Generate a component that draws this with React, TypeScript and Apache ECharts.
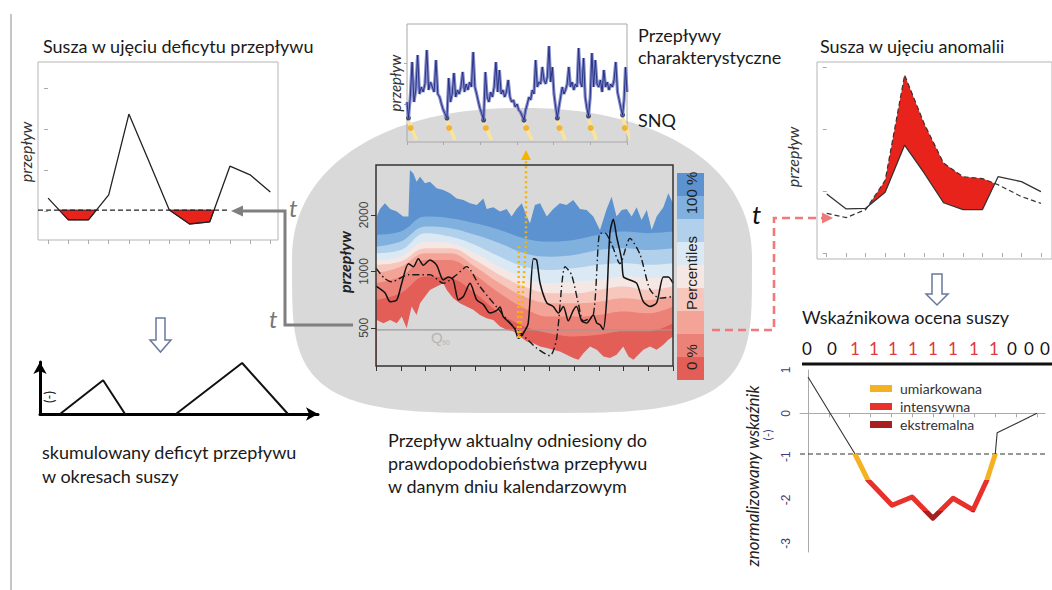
import { useEffect, useRef } from 'react';
import * as echarts from 'echarts';

// ===== Panel 1: Susza w ujęciu deficytu przepływu
const deficitX = [0, 1, 2, 3, 4, 5, 6, 7, 8, 9, 10, 11];
const deficitFlow = [1.32, 0.79, 0.79, 1.4, 3.37, 2.21, 1.03, 0.69, 0.74, 2.1, 1.89, 1.47];
const deficitThreshold = 1.03;
const deficitThresholdEnd = 9.0;
const deficitTicksY = [1, 2, 3, 4];

// ===== Panel 2: skumulowany deficyt
const cumDeficit1 = [[7.2, 0], [22.7, 0.65], [30.6, 0]];
const cumDeficit2 = [[48.9, 0], [72.7, 0.98], [89.2, 0]];

// ===== Panel 3: hydrogram (przepływy charakterystyczne)
const hydroYearTicks = [0, 1, 2, 3, 4, 5, 6];
const hydroTroughX = [0.04, 1.09, 2.09, 3.19, 4.1, 4.95, 5.88];
const hydroTroughY = [24, 24, 22, 22, 24, 26, 27];
const hydroStart = 40;
const hydroYear1 = [45, 80, 40, 52, 87, 48, 55, 50, 58, 92, 52, 60, 55, 50, 82, 48, 45, 38, 32, 28];
const hydroYear2 = [64, 40, 48, 69, 45, 52, 48, 55, 70, 50, 58, 52, 60, 55, 90, 55, 48, 40, 33, 28];
const hydroYear3 = [70, 45, 40, 50, 45, 55, 80, 50, 72, 48, 52, 45, 50, 62, 45, 40, 42, 35, 38, 32, 30, 26];
const hydroYear4 = [32, 38, 45, 42, 52, 48, 82, 55, 60, 58, 75, 62, 58, 65, 96, 60, 75, 48, 35];
const hydroYear5 = [35, 45, 55, 48, 52, 58, 75, 55, 60, 52, 58, 55, 94, 60, 55, 84, 45, 34];
const hydroYear6 = [45, 89, 55, 82, 58, 55, 62, 50, 72, 55, 60, 52, 58, 55, 62, 80, 50, 42, 34];
const hydroTail = [42, 75, 50];
const snqValue = 14;

// ===== Panel 4: percentyle przepływu (log)
const months = [0, 1, 2, 3, 4, 5, 6, 7, 8, 9, 10, 11, 12];
const pct100X = [0.03, 0.16, 0.36, 0.57, 0.84, 1.1, 1.31, 1.37, 1.51, 1.64, 1.78, 1.98, 2.18, 2.45, 2.72, 2.99, 3.26, 3.53, 3.8, 4.07, 4.34, 4.47, 4.74, 5.01, 5.28, 5.48, 5.68, 5.89, 6.09, 6.22, 6.42, 6.63, 6.9, 7.16, 7.43, 7.7, 7.97, 8.24, 8.51, 8.78, 9.05, 9.32, 9.52, 9.72, 9.93, 10.13, 10.33, 10.53, 10.73, 10.94, 11.14, 11.34, 11.61, 11.81, 12.0];
const pct100 = [1960, 2150, 2309, 2150, 2085, 1960, 1960, 3473, 3330, 3010, 3200, 2950, 3010, 2780, 2718, 2610, 2450, 2400, 2309, 2260, 2450, 2150, 2200, 2085, 2150, 1960, 2150, 2309, 1960, 1806, 2260, 2309, 1960, 2150, 2309, 2260, 2400, 2150, 2126, 1960, 1664, 2150, 2504, 1960, 2126, 2150, 1960, 2200, 1880, 2126, 1664, 1960, 2200, 2610, 2309];
const pct89 = [1567, 1630, 1960, 1920, 1806, 1664, 1500, 1443, 1472, 1567, 1630, 1600, 1630];
const pct78 = [1356, 1443, 1735, 1700, 1567, 1413, 1249, 1199, 1224, 1300, 1328, 1300, 1328];
const pct67 = [1249, 1300, 1600, 1533, 1385, 1199, 1060, 1019, 1040, 1084, 1106, 1084, 1106];
const pct56 = [1152, 1199, 1443, 1413, 1249, 1060, 920, 865, 883, 900, 938, 920, 938];
const pct44 = [1084, 1129, 1328, 1328, 1152, 958, 830, 765, 765, 797, 830, 797, 830];
const pct33 = [978, 1060, 1249, 1249, 1060, 865, 734, 677, 677, 690, 720, 705, 734];
const pct22 = [865, 938, 1152, 1152, 958, 765, 637, 574, 574, 586, 611, 598, 650];
const pct11 = [705, 765, 938, 920, 765, 598, 508, 468, 450, 459, 479, 479, 529];
const pct0X = [0.03, 0.3, 0.57, 0.84, 1.04, 1.24, 1.44, 1.64, 1.78, 1.98, 2.18, 2.45, 2.72, 2.86, 3.12, 3.39, 3.66, 3.93, 4.2, 4.47, 4.74, 5.01, 5.28, 5.55, 5.82, 6.09, 6.36, 6.63, 6.9, 7.16, 7.43, 7.7, 7.97, 8.18, 8.38, 8.65, 8.92, 9.19, 9.45, 9.72, 9.99, 10.2, 10.4, 10.6, 10.8, 11.07, 11.34, 11.61, 11.81, 12.0];
const pct0 = [551, 529, 551, 529, 574, 498, 650, 586, 677, 734, 797, 830, 865, 797, 720, 677, 650, 624, 586, 562, 551, 508, 488, 479, 450, 423, 414, 398, 390, 382, 374, 359, 345, 338, 366, 398, 382, 352, 345, 359, 398, 352, 338, 359, 382, 398, 382, 406, 432, 450];
const bandColors = ['#e25e56', '#ec8177', '#f3a497', '#f7c7bd', '#f5e7e3', '#dbe9f5', '#b0d0ec', '#80b0de', '#5b92cf'];
const flow2003 = [[0, 835], [0.36, 770], [0.57, 690], [0.84, 705], [1.04, 865], [1.31, 1100], [1.51, 1060], [1.71, 1170], [1.91, 1080], [2.18, 1150], [2.45, 1080], [2.72, 900], [2.92, 935], [3.12, 900], [3.33, 705], [3.53, 735], [3.8, 865], [4.07, 705], [4.34, 665], [4.6, 600], [4.88, 620], [5.01, 645], [5.14, 574], [5.41, 530], [5.62, 490], [5.75, 440], [5.95, 468], [6.15, 530], [6.36, 1170], [6.49, 1150], [6.63, 865], [6.9, 680], [7.16, 650], [7.37, 600], [7.57, 650], [7.77, 545], [7.97, 620], [8.1, 650], [8.31, 545], [8.51, 530], [8.78, 585], [8.92, 530], [9.05, 520], [9.18, 490], [9.32, 705], [9.45, 1600], [9.59, 1900], [9.72, 1540], [9.93, 1150], [10.0, 935], [10.26, 900], [10.53, 865], [10.8, 690], [11.07, 650], [11.34, 680], [11.61, 935], [11.81, 935], [12, 865]];
const flow1947 = [[0, 1040], [0.36, 915], [0.63, 880], [1.31, 960], [2.18, 960], [2.72, 865], [3.26, 960], [3.66, 1060], [4.2, 830], [4.88, 645], [5.41, 530], [5.95, 455], [6.49, 390], [7.03, 355], [7.3, 440], [7.64, 1060], [7.9, 960], [8.17, 680], [8.38, 545], [8.78, 585], [9.05, 1600], [9.25, 1600], [9.52, 1400], [9.86, 1100], [10.26, 1500], [10.67, 1230], [11.07, 800], [11.47, 720], [12, 735]];
const q90 = 488;
const flowTicksY = [500, 1000, 2000];
const marker2003 = [5.74, 421];
const marker1947 = [7.03, 359];

// ===== Panel 5: Susza w ujęciu anomalii
const anomX = [0, 1, 2, 3, 4, 5, 6, 7, 8, 8.8, 10, 11];
const anomFlow = [0.95, 0.71, 0.72, 0.98, 1.74, 1.29, 0.81, 0.7, 0.7, 1.23, 1.15, 0.99];
const anomNormal = [0.64, 0.57, 0.7, 1.17, 2.87, 2.09, 1.45, 1.23, 1.2, 1.1, 0.91, 0.8];
const anomTicksX = [0, 1, 2, 3, 4, 5, 6, 7, 8, 9, 10, 11];
const anomTicksY = [0, 1, 2, 3];

// ===== Panel 6: Wskaźnikowa ocena suszy
const binaryRow = ['0', '0', '1', '1', '1', '1', '1', '1', '1', '1', '0', '0', '0'];
const binaryX = [807, 832, 855, 874, 893, 913, 933, 953, 974, 994, 1012, 1029, 1045];
const indexX = [0, 2.26, 2.88, 4.04, 5.0, 6.0, 6.97, 7.93, 8.6, 9.0, 9.09, 11.0];
const indexVal = [0.84, -0.94, -1.54, -2.12, -1.93, -2.42, -1.96, -2.23, -1.54, -0.94, -0.45, 0.0];
const indexThreshold = -0.94;
const indexTicksX = [0, 1, 2, 3, 4, 5, 6, 7, 8, 9, 10, 11];
const indexTicksY = [-3, -2, -1, 0, 1];
const severityNames = ['umiarkowana', 'intensywna', 'ekstremalna'];
const severityColors = ['#f4b223', '#e8312a', '#a91e1e'];
const severityLimits = [-0.94, -1.54, -2.25];

const SANS = 'Lato';
const ARIAL = 'Liberation Sans';

function deficitPolygons(xs: number[], ys: number[], thr: number) {
  const polys: number[][][] = [];
  let cur: number[][] | null = null;
  for (let i = 0; i < xs.length; i++) {
    const below = ys[i] < thr;
    if (i > 0) {
      const prevBelow = ys[i - 1] < thr;
      if (below !== prevBelow) {
        const t = (thr - ys[i - 1]) / (ys[i] - ys[i - 1]);
        const cx = xs[i - 1] + t * (xs[i] - xs[i - 1]);
        if (below) cur = [[cx, thr]];
        else if (cur) { cur.push([cx, thr]); polys.push(cur); cur = null; }
      }
    }
    if (below) { if (!cur) cur = [[xs[i], thr]]; cur.push([xs[i], ys[i]]); }
  }
  if (cur) { cur.push([xs[xs.length - 1], thr]); polys.push(cur); }
  return polys;
}

function gapPolygons(xs: number[], upper: number[], lower: number[]) {
  const polys: number[][][] = [];
  let top: number[][] | null = null;
  let bot: number[][] = [];
  for (let i = 0; i < xs.length; i++) {
    const d = upper[i] - lower[i];
    if (i > 0) {
      const dp = upper[i - 1] - lower[i - 1];
      if ((d > 0) !== (dp > 0)) {
        const t = dp / (dp - d);
        const cx = xs[i - 1] + t * (xs[i] - xs[i - 1]);
        const cy = lower[i - 1] + t * (lower[i] - lower[i - 1]);
        if (d > 0) { top = [[cx, cy]]; bot = []; }
        else if (top) { top.push([cx, cy]); polys.push(top.concat(bot.reverse())); top = null; }
      }
    }
    if (d > 0 && top) { top.push([xs[i], upper[i]]); bot.push([xs[i], lower[i]]); }
  }
  return polys;
}

function buildHydro() {
  const segs = [hydroYear1, hydroYear2, hydroYear3, hydroYear4, hydroYear5, hydroYear6];
  const out: number[][] = [[0, hydroStart]];
  hydroTroughX.forEach((tx, i) => {
    out.push([tx, hydroTroughY[i]]);
    const seg = segs[i];
    const next = i + 1 < hydroTroughX.length ? hydroTroughX[i + 1] : 6;
    if (seg) seg.forEach((v, j) => out.push([tx + ((next - tx) * (j + 1)) / (seg.length + 1), v]));
    else hydroTail.forEach((v, j) => out.push([tx + ((next - tx) * (j + 1)) / hydroTail.length, v]));
  });
  return out;
}

function ellipsePoints() {
  const pts: number[][] = [];
  for (let i = 0; i < 200; i++) {
    const th = (i / 200) * Math.PI * 2;
    const c = Math.cos(th);
    const s = Math.sin(th);
    const bottom = s > 0;
    const n = bottom ? 4 : 2.2;
    const b = bottom ? 153 : 152;
    pts.push([
      522 + 230 * Math.sign(c) * Math.pow(Math.abs(c), 2 / n),
      260 + b * Math.sign(s) * Math.pow(Math.abs(s), 2 / n),
    ]);
  }
  return pts;
}

function txt(x: number, y: number, text: string, o: any = {}) {
  return {
    type: 'text', x, y, rotation: o.rotation || 0, z: o.z ?? 20, silent: true,
    style: {
      text, fill: o.color || '#1a1a1a', fontSize: o.size || 18, fontFamily: o.family || SANS,
      fontStyle: o.italic ? 'italic' : 'normal', fontWeight: o.bold ? 'bold' : 'normal',
      align: o.align || 'left', verticalAlign: 'middle',
    },
  };
}

function noAxis(gridIndex: number, extra: any = {}) {
  return {
    gridIndex, type: 'value', axisLine: { show: false }, axisLabel: { show: false },
    axisTick: { show: false }, splitLine: { show: false }, ...extra,
  };
}

function ticks(values: number[], color = '#999', length = 4) {
  return { show: true, customValues: values, length, lineStyle: { color, width: 1 } };
}

function buildOption() {
  const defPolys = deficitPolygons(deficitX, deficitFlow, deficitThreshold);
  const anomPolys = gapPolygons(anomX, anomNormal, anomFlow);
  const hydro = buildHydro();

  const series: any[] = [];
  // panel 1
  series.push({
    type: 'custom', xAxisIndex: 0, yAxisIndex: 0, silent: true, clip: true, z: 1,
    renderItem: (params: any, api: any) => ({
      type: 'polygon',
      shape: { points: defPolys[params.dataIndex].map((p) => api.coord(p)) },
      style: { fill: '#e8231c', stroke: '#4a0c0c', lineWidth: 0.8 },
    }),
    data: defPolys.map((p) => p[0]),
  });
  series.push({
    type: 'line', xAxisIndex: 0, yAxisIndex: 0, symbol: 'none', silent: true,
    data: [[-0.5, deficitThreshold], [deficitThresholdEnd, deficitThreshold]],
    lineStyle: { color: '#222', width: 1.2, type: [5, 3] },
  });
  series.push({
    type: 'line', xAxisIndex: 0, yAxisIndex: 0, symbol: 'none', silent: true,
    data: deficitX.map((x, i) => [x, deficitFlow[i]]),
    lineStyle: { color: '#222', width: 1.3 },
  });
  // panel 2
  [cumDeficit1, cumDeficit2].forEach((d) =>
    series.push({
      type: 'line', xAxisIndex: 1, yAxisIndex: 1, symbol: 'none', silent: true, data: d,
      lineStyle: { color: '#111', width: 2 },
    })
  );
  // panel 3
  series.push({
    type: 'line', xAxisIndex: 2, yAxisIndex: 2, symbol: 'none', silent: true, data: hydro,
    lineStyle: { color: '#7880c4', width: 3.2, opacity: 0.9 },
  });
  series.push({
    type: 'line', xAxisIndex: 2, yAxisIndex: 2, symbol: 'none', silent: true, data: hydro,
    lineStyle: { color: '#1e2a7e', width: 0.9 },
  });
  series.push({
    type: 'lines', coordinateSystem: 'cartesian2d', xAxisIndex: 2, yAxisIndex: 2, silent: true,
    data: hydroTroughX.map((tx, i) => ({ coords: [[tx, hydroTroughY[i] - 3], [tx + 0.22, 2]] })),
    lineStyle: { color: '#f8e49a', width: 3.5, opacity: 1, curveness: 0 },
  });
  series.push({
    type: 'scatter', xAxisIndex: 2, yAxisIndex: 2, silent: true, symbolSize: 5,
    data: hydroTroughX.map((tx, i) => [tx, hydroTroughY[i]]),
    itemStyle: { color: '#1b1f4f' },
  });
  series.push({
    type: 'scatter', xAxisIndex: 2, yAxisIndex: 2, silent: true, symbolSize: 6,
    data: hydroTroughX.map((tx) => [tx + 0.06, snqValue]),
    itemStyle: { color: '#f0a818' },
  });
  // panel 4 bands
  const bounds: { x: number[]; y: number[] }[] = [
    { x: pct0X, y: pct0 },
    { x: months, y: pct11 }, { x: months, y: pct22 }, { x: months, y: pct33 }, { x: months, y: pct44 },
    { x: months, y: pct56 }, { x: months, y: pct67 }, { x: months, y: pct78 }, { x: months, y: pct89 },
    { x: pct100X, y: pct100 },
  ];
  for (let k = bounds.length - 1; k >= 0; k--) {
    const color = k === 0 ? '#d9d9d9' : bandColors[k - 1];
    series.push({
      type: 'line', xAxisIndex: 3, yAxisIndex: 3, symbol: 'none', silent: true,
      smooth: k > 0 && k < 9 ? 0.4 : false,
      data: bounds[k].x.map((x, i) => [x, bounds[k].y[i]]),
      lineStyle: { width: 0, opacity: 0 },
      areaStyle: { color, opacity: 1, origin: 'start' },
    });
  }
  series.push({
    type: 'line', xAxisIndex: 3, yAxisIndex: 3, symbol: 'none', silent: true,
    data: [[0, q90], [12, q90]], lineStyle: { color: '#9a9a9a', width: 1.2 },
  });
  series.push({
    type: 'line', xAxisIndex: 3, yAxisIndex: 3, symbol: 'none', silent: true, smooth: 0.25,
    data: flow1947, lineStyle: { color: '#1a1a1a', width: 1.4, type: [7, 3, 1.5, 3] },
  });
  series.push({
    type: 'line', xAxisIndex: 3, yAxisIndex: 3, symbol: 'none', silent: true, smooth: 0.25,
    data: flow2003, lineStyle: { color: '#111', width: 1.5 },
  });
  series.push({
    type: 'scatter', xAxisIndex: 3, yAxisIndex: 3, silent: true, symbol: 'triangle', symbolSize: 8,
    itemStyle: { color: '#f5c021' },
    label: { show: true, position: 'left', distance: 3, fontSize: 11, color: '#333', fontFamily: ARIAL },
    data: [
      { value: marker2003, label: { formatter: '2003', offset: [0, -4] } },
      { value: marker1947, label: { formatter: '1947' } },
    ],
  });
  // panel 5
  series.push({
    type: 'custom', xAxisIndex: 4, yAxisIndex: 4, silent: true, clip: true, z: 1,
    renderItem: (params: any, api: any) => ({
      type: 'polygon',
      shape: { points: anomPolys[params.dataIndex].map((p) => api.coord(p)) },
      style: { fill: '#e8231c' },
    }),
    data: anomPolys.map((p) => p[0]),
  });
  series.push({
    type: 'line', xAxisIndex: 4, yAxisIndex: 4, symbol: 'none', silent: true,
    data: anomX.map((x, i) => [x, anomNormal[i]]),
    lineStyle: { color: '#333', width: 1.2, type: [5, 3] },
  });
  series.push({
    type: 'line', xAxisIndex: 4, yAxisIndex: 4, symbol: 'none', silent: true,
    data: anomX.map((x, i) => [x, anomFlow[i]]),
    lineStyle: { color: '#333', width: 1.3 },
  });
  // panel 6
  series.push({
    type: 'line', xAxisIndex: 5, yAxisIndex: 5, symbol: 'none', silent: true,
    data: [[-0.385, indexThreshold], [11.39, indexThreshold]],
    lineStyle: { color: '#333', width: 1.1, type: [5, 3] },
  });
  series.push({
    type: 'line', xAxisIndex: 5, yAxisIndex: 5, symbol: 'none', silent: true,
    data: indexX.map((x, i) => [x, indexVal[i]]), lineStyle: { color: '#333', width: 1.1 },
  });
  const severityIndex = series.length;
  series.push({
    type: 'line', xAxisIndex: 5, yAxisIndex: 5, symbol: 'none', silent: true,
    data: indexX.map((x, i) => [x, indexVal[i]]), lineStyle: { width: 5, join: 'round' },
  });

  const graphic: any[] = [];
  graphic.push({ type: 'polygon', z: -1, silent: true, shape: { points: ellipsePoints() }, style: { fill: '#d9d9d9' } });
  graphic.push({ type: 'line', z: 5, silent: true, shape: { x1: 11, y1: 14, x2: 11, y2: 590 }, style: { stroke: '#a0a0a0', lineWidth: 1.2 } });
  // titles
  graphic.push(txt(43, 46, 'Susza w ujęciu deficytu przepływu'));
  graphic.push(txt(638, 35, 'Przepływy'));
  graphic.push(txt(638, 57, 'charakterystyczne'));
  graphic.push(txt(638, 120, 'SNQ'));
  graphic.push(txt(820, 46, 'Susza w ujęciu anomalii'));
  graphic.push(txt(802, 317, 'Wskaźnikowa ocena suszy'));
  graphic.push(txt(388, 440, 'Przepływ aktualny odniesiony do'));
  graphic.push(txt(388, 463, 'prawdopodobieństwa przepływu'));
  graphic.push(txt(388, 486, 'w danym dniu kalendarzowym'));
  graphic.push(txt(42, 452, 'skumulowany deficyt przepływu'));
  graphic.push(txt(42, 476, 'w okresach suszy'));
  // axis titles
  const rot = Math.PI / 2;
  graphic.push(txt(25, 152, 'przepływ', { rotation: rot, italic: true, size: 16, align: 'center', color: '#333' }));
  graphic.push(txt(395, 83, 'przepływ', { rotation: rot, italic: true, size: 15, align: 'center', color: '#333' }));
  graphic.push(txt(344, 262, 'przepływ', { rotation: rot, italic: true, bold: true, size: 16, align: 'center', color: '#222' }));
  graphic.push(txt(792, 157, 'przepływ', { rotation: rot, italic: true, size: 16, align: 'center', color: '#333' }));
  graphic.push(txt(752, 476, 'znormalizowany wskaźnik', { rotation: rot, italic: true, size: 17, align: 'center', color: '#222' }));
  graphic.push(txt(767, 435, '(-)', { rotation: rot, size: 12, align: 'center', color: '#3b3b78' }));
  graphic.push(txt(49, 397, '(-)', { rotation: rot, size: 13, align: 'center', color: '#222' }));
  // Q90
  graphic.push(txt(431, 337, 'Q', { size: 15, color: '#b5b5b5', family: ARIAL }));
  graphic.push(txt(442, 342, '90', { size: 7, color: '#b5b5b5', family: ARIAL }));
  // main frame
  graphic.push({ type: 'rect', z: 10, silent: true, shape: { x: 376, y: 165, width: 297, height: 201 }, style: { fill: 'transparent', stroke: '#333', lineWidth: 1.5 } });
  // percentile legend bar
  bandColors.forEach((c, i) => {
    graphic.push({ type: 'rect', z: 5, silent: true, shape: { x: 677, y: 173 + (bandColors.length - 1 - i) * 23, width: 27, height: 23 }, style: { fill: c } });
  });
  graphic.push(txt(691, 193, '100 %', { rotation: rot, size: 15, align: 'center', family: ARIAL, color: '#222' }));
  graphic.push(txt(691, 273, 'Percentiles', { rotation: rot, size: 15, align: 'center', family: ARIAL, color: '#222' }));
  graphic.push(txt(691, 357, '0 %', { rotation: rot, size: 15, align: 'center', family: ARIAL, color: '#222' }));
  // gray t-arrow (left)
  graphic.push({ type: 'polyline', z: 30, silent: true, shape: { points: [[353, 325], [285, 325], [285, 211], [240, 211]] }, style: { stroke: '#7f7f7f', lineWidth: 3, fill: null } });
  graphic.push({ type: 'polygon', z: 30, silent: true, shape: { points: [[243, 205.5], [231, 211], [243, 216.5]] }, style: { fill: '#7f7f7f' } });
  graphic.push(txt(289, 207, 't', { italic: true, size: 24, color: '#777' }));
  graphic.push(txt(269, 318, 't', { italic: true, size: 24, color: '#777' }));
  // orange dotted arrow
  graphic.push({ type: 'polyline', z: 30, silent: true, shape: { points: [[518, 338], [519, 243]] }, style: { stroke: '#f5b400', lineWidth: 2.5, lineDash: [2, 3], fill: null } });
  graphic.push({ type: 'polyline', z: 30, silent: true, shape: { points: [[520, 338], [526, 243], [526, 160]] }, style: { stroke: '#f5b400', lineWidth: 2.5, lineDash: [2, 3], fill: null } });
  graphic.push({ type: 'polygon', z: 30, silent: true, shape: { points: [[521, 160], [531, 160], [526, 150]] }, style: { fill: '#f5b400' } });
  // pink dashed arrow
  graphic.push({ type: 'polyline', z: 30, silent: true, shape: { points: [[712, 330], [774, 330], [774, 218], [824, 218]] }, style: { stroke: '#f07a7a', lineWidth: 2.6, lineDash: [8, 5], fill: null } });
  graphic.push({ type: 'polygon', z: 30, silent: true, shape: { points: [[822, 212.5], [833, 218], [822, 223.5]] }, style: { fill: '#f07a7a' } });
  graphic.push(txt(752, 214, 't', { italic: true, size: 26, color: '#111' }));
  // hollow arrows
  graphic.push({ type: 'polygon', z: 30, silent: true, shape: { points: [[156, 318], [165, 318], [165, 340], [171, 340], [160.5, 352], [150, 340], [156, 340]] }, style: { fill: '#fff', stroke: '#6a7a9a', lineWidth: 1.5 } });
  graphic.push({ type: 'polygon', z: 30, silent: true, shape: { points: [[932, 274], [942, 274], [942, 294], [948, 294], [937, 305], [926, 294], [932, 294]] }, style: { fill: '#fff', stroke: '#6a7a9a', lineWidth: 1.5 } });
  // binary row
  binaryRow.forEach((b, i) => graphic.push(txt(binaryX[i], 348, b, { size: 17, align: 'center', color: b === '1' ? '#e03a3a' : '#111' })));
  graphic.push({ type: 'line', z: 30, silent: true, shape: { x1: 802, y1: 364, x2: 1052, y2: 364 }, style: { stroke: '#111', lineWidth: 3 } });
  // severity legend
  severityNames.forEach((n, i) => {
    graphic.push({ type: 'rect', z: 30, silent: true, shape: { x: 870, y: 385 + i * 18, width: 22, height: 7 }, style: { fill: severityColors[i] } });
    graphic.push(txt(900, 388 + i * 18, n, { size: 14, color: '#333' }));
  });

  const xAxis = [
    noAxis(0, { min: -0.5, max: 11.38, axisTick: ticks(deficitX, '#aaa') }),
    noAxis(1, { min: 0, max: 100, axisLine: { show: true, symbol: ['none', 'arrow'], symbolSize: [10, 12], lineStyle: { color: '#000', width: 3 } } }),
    noAxis(2, { min: 0, max: 6, axisTick: ticks(hydroYearTicks, '#aaa', 3) }),
    noAxis(3, { min: 0, max: 12, axisTick: ticks(months, '#333', 5) }),
    noAxis(4, { min: -0.5, max: 11.57, axisTick: ticks(anomTicksX, '#aaa') }),
    noAxis(5, { min: -0.385, max: 11.39, axisLine: { show: true, lineStyle: { color: '#aaa', width: 1 } }, axisTick: ticks(indexTicksX, '#aaa') }),
  ];
  const yAxis = [
    noAxis(0, { min: 0.3, max: 4.64, axisTick: ticks(deficitTicksY, '#aaa') }),
    noAxis(1, { min: 0, max: 1, axisLine: { show: true, symbol: ['none', 'arrow'], symbolSize: [10, 12], lineStyle: { color: '#000', width: 3 } } }),
    noAxis(2, { min: 0, max: 118, axisTick: ticks([38, 79], '#aaa', 3) }),
    noAxis(3, {
      type: 'log', min: 313, max: 3694, axisTick: ticks(flowTicksY, '#333', 5),
      axisLabel: { show: true, customValues: flowTicksY, rotate: 90, fontSize: 12, color: '#444', fontFamily: ARIAL, margin: 6, formatter: (v: number) => String(Math.round(v)) },
    }),
    noAxis(4, { min: -0.097, max: 3.08, axisTick: ticks(anomTicksY, '#aaa') }),
    noAxis(5, {
      min: -3.2, max: 1, axisLine: { show: true, lineStyle: { color: '#aaa', width: 1 } },
      axisLabel: { show: true, customValues: indexTicksY, rotate: 90, fontSize: 12, color: '#3b3b78', fontFamily: ARIAL, margin: 8 },
    }),
  ];

  return {
    animation: false,
    backgroundColor: '#ffffff',
    grid: [
      { left: 38, top: 62, width: 240, height: 178, show: true, borderColor: '#b5b5b5', borderWidth: 1 },
      { left: 40, top: 362, width: 278, height: 52 },
      { left: 407, top: 24, width: 220, height: 118, show: true, borderColor: '#a8a8a8', borderWidth: 1 },
      { left: 376, top: 165, width: 297, height: 201 },
      { left: 817, top: 62, width: 245, height: 197, show: true, borderColor: '#b5b5b5', borderWidth: 1 },
      { left: 800, top: 370, width: 245, height: 182 },
    ],
    xAxis,
    yAxis,
    visualMap: [{
      type: 'piecewise', show: false, dimension: 1, seriesIndex: severityIndex,
      pieces: [
        { gt: severityLimits[0], color: 'rgba(0,0,0,0)' },
        { gt: severityLimits[1], lte: severityLimits[0], color: severityColors[0] },
        { gt: severityLimits[2], lte: severityLimits[1], color: severityColors[1] },
        { lte: severityLimits[2], color: severityColors[2] },
      ],
    }],
    series,
    graphic: { elements: graphic },
  };
}

export default function App() {
  const ref = useRef<HTMLDivElement>(null);
  useEffect(() => {
    if (!ref.current) return;
    const chart = echarts.init(ref.current, null, { renderer: 'svg' });
    chart.setOption(buildOption() as any);
    return () => chart.dispose();
  }, []);
  return <div ref={ref} style={{ position: 'absolute', left: 0, top: 0, width: 1052, height: 590, background: '#fff' }} />;
}
